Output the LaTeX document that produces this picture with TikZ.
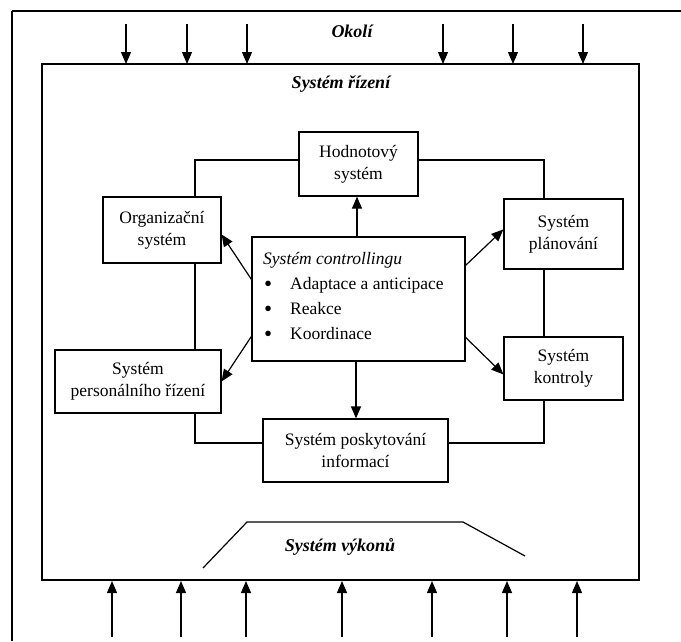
\documentclass[tikz,border=0pt]{standalone}
\usepackage{fontspec}
\setmainfont{Liberation Serif}
\usetikzlibrary{arrows.meta,calc}
\begin{document}
\begin{tikzpicture}[x=1pt,y=-1pt,
  ln/.style={line width=1.2pt},
  arr/.style={line width=1.2pt,-{Triangle[length=12pt,width=10pt]}},
  box/.style={draw,line width=1.2pt,inner sep=0pt,align=center,
    font=\fontsize{17.5}{22}\selectfont},
  ttl/.style={font=\fontsize{18}{21}\selectfont\bfseries\itshape},
  itm/.style={anchor=base west,inner sep=0pt,font=\fontsize{17.5}{21}\selectfont},
  bul/.style={anchor=base west,inner sep=0pt,font=\fontsize{23}{21}\selectfont}]
\useasboundingbox (0,0) rectangle (681,641);
% outer frame (top and left)
\draw[ln] (12,11) -- (681,11);
\draw[ln] (12,11) -- (12,641);
% inner rectangle
\node[draw,line width=1.2pt,minimum width=597pt,minimum height=516pt,inner sep=0pt] (ctl) at (340.5,322) {};
% titles
\node[ttl] (okoli) at (352,31) {Okolí};
\node[ttl] (rizeni) at (341,84) {Systém řízení};
\node[ttl] (vykon) at (340,547) {Systém výkonů};
% environment arrows
\foreach \x in {126,187,247,443,513,583} \draw[arr] (\x,24) -- (\x,64);
\foreach \x in {112,181,246,342,432,507,577} \draw[arr] (\x,637) -- (\x,581);
% trapezoid
\coordinate (t1) at (203,568);
\coordinate (t2) at (247,522);
\coordinate (t3) at (463,522);
\coordinate (t4) at (525,556);
\draw[ln] (t1) -- (t2) -- (t3) -- (t4);
% boxes
\node[box,minimum width=119pt,minimum height=64pt] (hod) at (358.5,164) {Hodnotový\\systém};
\node[box,minimum width=118pt,minimum height=66pt] (org) at (162,230) {Organizační\\systém};
\node[box,minimum width=166pt,minimum height=63pt] (pers) at (138,381.5) {Systém\\personálního řízení};
\node[box,minimum width=119pt,minimum height=70pt] (plan) at (563.5,234) {Systém\\plánování};
\node[box,minimum width=119pt,minimum height=63pt] (kont) at (563.5,368.5) {Systém\\kontroly};
\node[box,minimum width=185pt,minimum height=63pt] (posk) at (355.5,450.5) {Systém poskytování\\informací};
\node[draw,line width=1.2pt,minimum width=213pt,minimum height=124pt,inner sep=0pt] (ctrl) at (358.5,299) {};
% controlling text
\node[itm,font=\fontsize{17.5}{21}\selectfont\itshape] (c0) at (263,264) {Systém controllingu};
\node[bul] (b1) at (264,291) {•};
\node[itm] (i1) at (290,289) {Adaptace a anticipace};
\node[bul] (b2) at (264,316) {•};
\node[itm] (i2) at (290,314) {Reakce};
\node[bul] (b3) at (264,341) {•};
\node[itm] (i3) at (290,339) {Koordinace};
% ring connections
\draw[ln] ([yshift=4pt]hod.west) -| ([xshift=33pt]org.north);
\draw[ln] ([xshift=33pt]org.south) -- ([xshift=57pt]pers.north);
\draw[ln] ([xshift=57pt]pers.south) |- ([yshift=7.5pt]posk.west);
\draw[ln] ([yshift=4pt]hod.east) -| ([xshift=-19.5pt]plan.north);
\draw[ln] ([xshift=-19.5pt]plan.south) -- ([xshift=-19.5pt]kont.north);
\draw[ln] ([yshift=7.5pt]posk.east) -| ([xshift=-19.5pt]kont.south);
% arrows from controlling
\draw[arr] ([xshift=-1.5pt]ctrl.north) -- ([xshift=-1.5pt]hod.south);
\draw[arr] ([xshift=-2.5pt]ctrl.south) -- ([xshift=0.5pt]posk.north);
\draw[arr] ([yshift=-43pt]ctrl.north west) -- ([yshift=-38pt]org.north east);
\draw[arr] ([yshift=-100pt]ctrl.north west) -- ([yshift=-32pt]pers.north east);
\draw[arr] ([yshift=-29pt]ctrl.north east) -- ([yshift=-31pt]plan.north west);
\draw[arr] ([yshift=-101pt]ctrl.north east) -- ([yshift=-38pt]kont.north west);
\end{tikzpicture}
\end{document}
